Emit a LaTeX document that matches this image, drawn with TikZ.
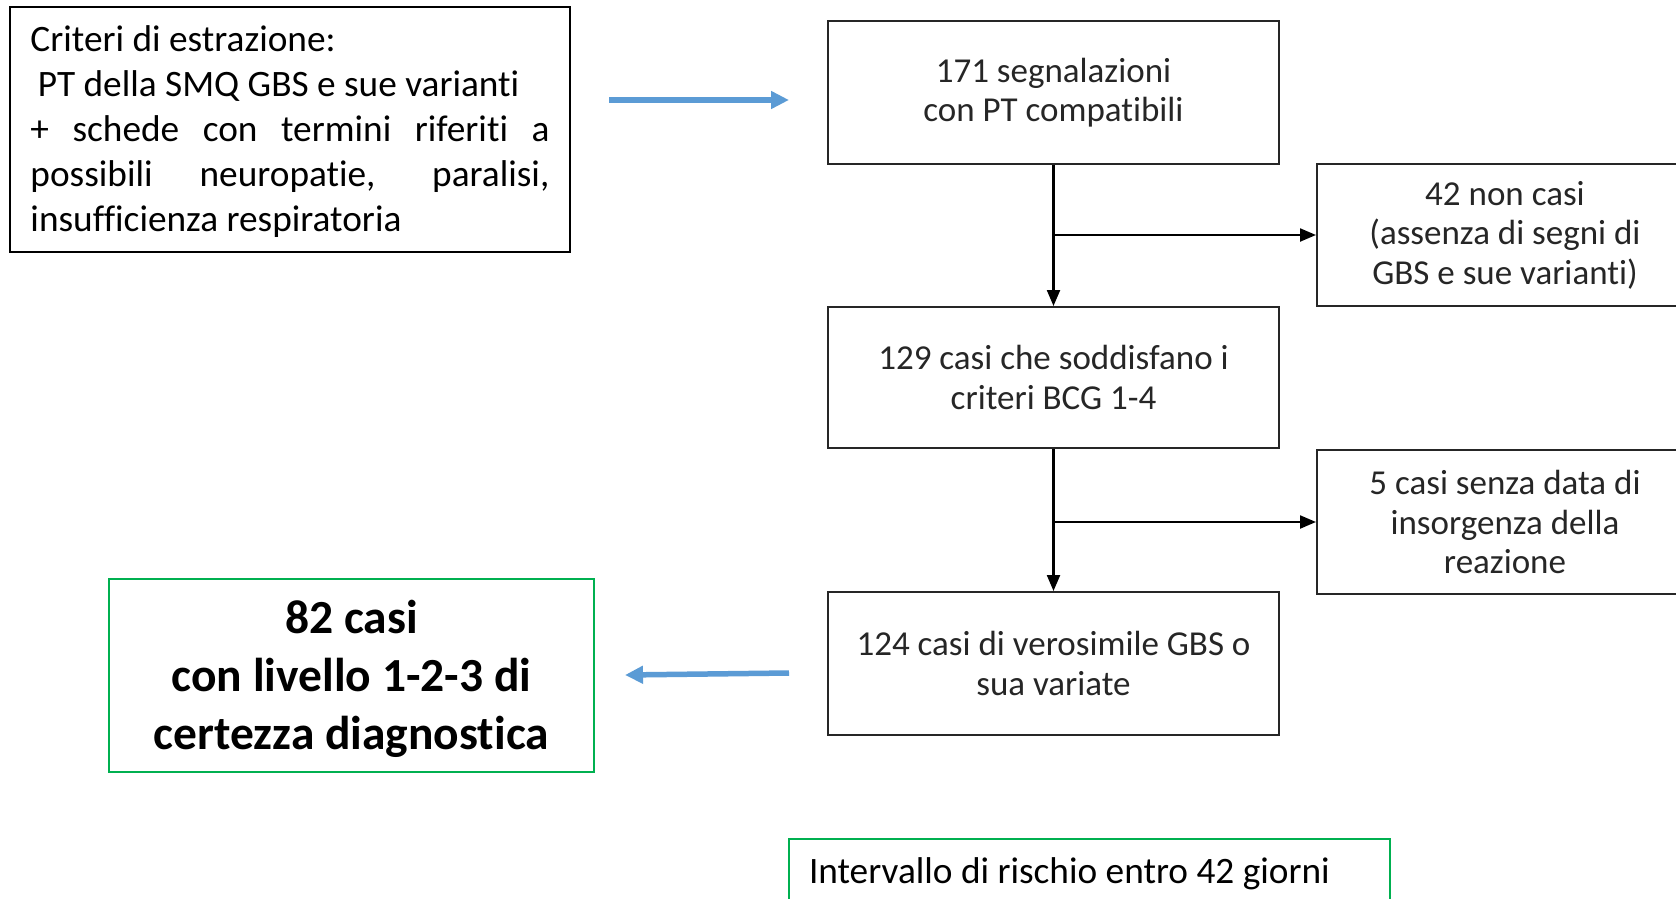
\documentclass[tikz,border=0pt]{standalone}
\usepackage{fontspec}
\setmainfont{Carlito}[Ligatures={NoCommon}]
\usetikzlibrary{arrows.meta,calc}
\definecolor{boxline}{HTML}{262626}
\definecolor{flowtext}{HTML}{262626}
\definecolor{offblue}{HTML}{5B9BD5}
\definecolor{offgreen}{HTML}{00B050}
\newcommand{\crittext}{\fontsize{37.3}{45}\selectfont}
\tikzset{
  critbox/.style={draw=black, line width=1.5pt, inner xsep=20.5pt, inner ysep=0pt, minimum width=560pt, minimum height=245pt},
  flowbox/.style={draw=boxline, line width=2pt, minimum width=451pt, inner sep=0pt, align=center, text=flowtext, font=\fontsize{35}{39.5}\selectfont},
  sidebox/.style={draw=boxline, line width=2pt, minimum width=376pt, inner sep=0pt, align=center, text=flowtext, font=\fontsize{35}{39.5}\selectfont},
  greenbox/.style={draw=offgreen, line width=1.5pt, inner sep=0pt},
  flowarrow/.style={draw=black, line width=2.2pt, -{Triangle[length=16pt,width=13pt]}},
  bluearrow/.style={draw=offblue, line width=5.5pt, -{Triangle[length=18pt,width=17pt]}},
}
\begin{document}
\begin{tikzpicture}[x=1pt,y=-1pt]
\clip (0,0) rectangle (1676,899);
\fill[white] (0,0) rectangle (1676,899);

\node[critbox] (crit) at (290,129.5) {\parbox{519pt}{\crittext\raggedright\vspace*{4pt}%
Criteri di estrazione:\\
\hspace*{0.2em}PT della SMQ GBS e sue varianti\\
\makebox[519pt][s]{+ schede con termini riferiti a}\\
\makebox[519pt][s]{possibili neuropatie, paralisi,}\\
insufficienza respiratoria}};

\node[flowbox, minimum height=143pt] (b171) at (1053.5,92.5) {171 segnalazioni\\con PT compatibili};
\node[sidebox, minimum height=142pt] (b42) at (1505,235) {42 non casi\\(assenza di segni di\\GBS e sue varianti)};
\node[flowbox, minimum height=141pt] (b129) at (1053.5,377.5) {129 casi che soddisfano i\\criteri BCG 1-4};
\node[sidebox, minimum height=144pt] (b5) at (1505,522) {5 casi senza data di\\insorgenza della\\reazione};
\node[flowbox, minimum height=143pt] (b124) at (1053.5,663.5) {124 casi di verosimile GBS o\\sua variate};

\node[greenbox, minimum width=485pt, minimum height=193pt] (b82) at (351.5,675.5) {\parbox{485pt}{\centering\bfseries\fontsize{47.5}{58}\selectfont\vspace*{6pt}82 casi\\con livello 1-2-3 di\\certezza diagnostica}};

\node[greenbox, minimum width=601pt, minimum height=70pt, inner xsep=20pt] (risk) at (1089.5,874) {\parbox{561pt}{\crittext\raggedright Intervallo di rischio entro 42 giorni}};

% flow connectors
\draw[flowarrow] (b171.south) -- (b129.north);
\draw[flowarrow] (b171.south |- b42.west) -- (b42.west);
\draw[flowarrow] (b129.south) -- (b124.north);
\draw[flowarrow] (b129.south |- b5.west) -- (b5.west);

% blue arrows
\coordinate (a1s) at (609,100);
\coordinate (a1e) at (789,100);
\draw[bluearrow] (a1s) -- (a1e);
\coordinate (a2s) at (789,673);
\coordinate (a2e) at (625,675);
\draw[bluearrow] (a2s) -- (a2e);
\end{tikzpicture}
\end{document}
